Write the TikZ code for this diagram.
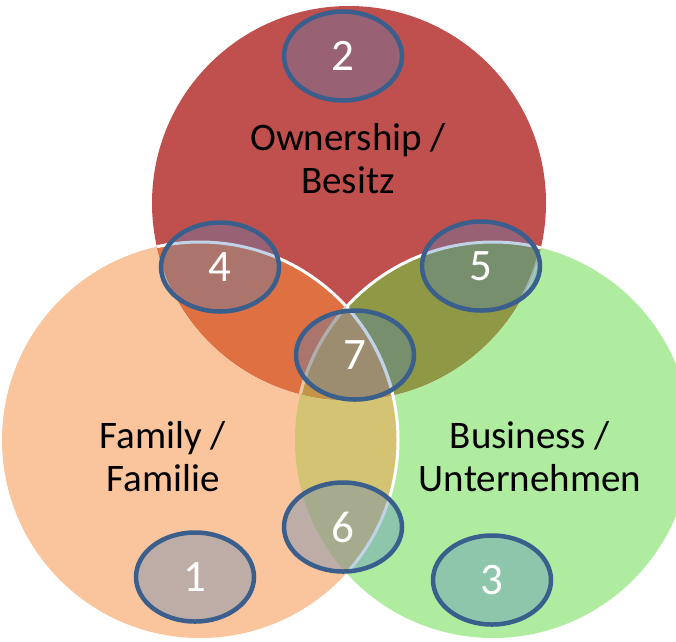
\documentclass[tikz,border=0pt]{standalone}
\usepackage{fontspec}
\setmainfont{Carlito}
\usetikzlibrary{shapes.geometric}

\definecolor{ownred}{RGB}{192,80,77}
\definecolor{fampeach}{RGB}{250,196,156}
\definecolor{bizgreen}{RGB}{175,236,160}
\definecolor{famown}{RGB}{222,112,66}
\definecolor{ownbiz}{RGB}{143,152,68}
\definecolor{fambiz}{RGB}{212,195,115}
\definecolor{allthree}{RGB}{198,148,72}
\definecolor{markblue}{RGB}{58,95,140}
\definecolor{markfill}{RGB}{79,129,189}

\tikzset{
  ring/.style={draw=white, line width=3pt},
  numbox/.style={ellipse, draw=markblue, line width=4.5pt, fill=markfill, fill opacity=0.35,
    text opacity=1, text=white, minimum width=118pt, minimum height=89pt, inner sep=0pt,
    font=\fontsize{45}{45}\selectfont},
  area/.style={align=center, text=black, font=\fontsize{39}{43}\selectfont}
}

\begin{document}
\begin{tikzpicture}[x=1pt,y=-1pt]
        \useasboundingbox (0,0) rectangle (676,641);
        \clip (0,0) rectangle (676,641);
        \coordinate (own) at (349,203);
        \coordinate (fam) at (200,440);
        \coordinate (biz) at (493,440);
        % plain circles
        \fill[fampeach] (fam) circle (198pt);
        \fill[bizgreen] (biz) circle (198pt);
        \fill[ownred] (own) circle (197pt);
        % overlaps
        \begin{scope}
          \clip (fam) circle (198pt);
          \fill[fambiz] (biz) circle (198pt);
        \end{scope}
        \begin{scope}
          \clip (own) circle (197pt);
          \fill[famown] (fam) circle (198pt);
          \fill[ownbiz] (biz) circle (198pt);
          \clip (fam) circle (198pt);
          \fill[allthree] (biz) circle (198pt);
        \end{scope}
        % white edges
        \begin{scope}
          \clip (own) circle (197pt);
          \draw[ring] (fam) circle (198pt);
          \draw[ring] (biz) circle (198pt);
          \clip (fam) circle (198pt);
          \draw[allthree, line width=3pt, opacity=0.5] (biz) circle (198pt);
        \end{scope}
        \begin{scope}
          \clip (biz) circle (198pt);
          \draw[ring] (fam) circle (198pt);
        \end{scope}
        \begin{scope}
          \clip (481,266) ellipse (59pt and 44.5pt);
          \clip (biz) circle (198pt);
          \draw[ring, opacity=0.5] (own) circle (197pt);
        \end{scope}
        % numbered marks
        \node[numbox] (two) at (343,56) {2};
        \node[numbox] (four) at (220,267) {4};
        \node[numbox] (five) at (481,266) {5};
        \node[numbox] (seven) at (355,355) {7};
        \node[numbox] (six) at (343,527) {6};
        \node[numbox] (one) at (195,577) {1};
        \node[numbox] (three) at (492,580) {3};
        % labels
        \node[area] (ownlbl) at (348,159) {Ownership /\\Besitz};
        \node[area] (famlbl) at (163,457) {Family /\\Familie};
        \node[area] (bizlbl) at (530,457) {Business /\\Unternehmen};
\end{tikzpicture}
\end{document}
